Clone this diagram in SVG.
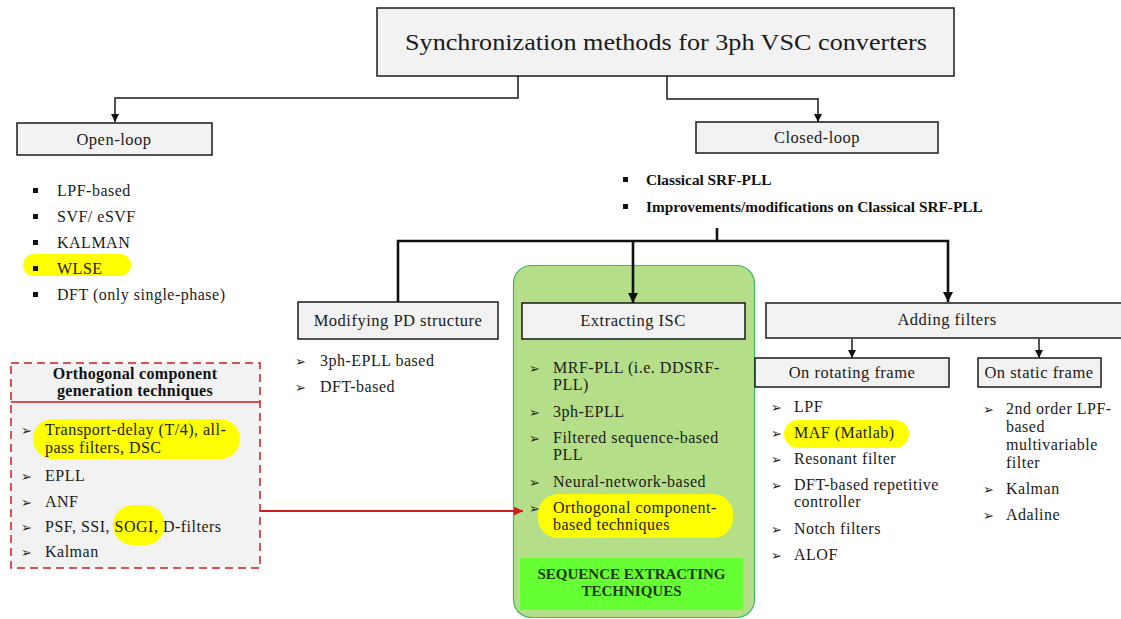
<svg xmlns="http://www.w3.org/2000/svg" width="1121" height="619" viewBox="0 0 1121 619">
<defs>
<style>
.box{fill:#f2f2f2;stroke:#1a1a1a;stroke-width:1.5}
.t{font-family:"Liberation Serif",serif;font-size:16px;letter-spacing:0.5px;fill:#1a1a1a}
.c{text-anchor:middle}
.h{font-family:"Liberation Serif",serif;font-size:16.5px;letter-spacing:0.5px;fill:#1a1a1a;text-anchor:middle}
.b{font-family:"Liberation Serif",serif;font-weight:bold;font-size:15.3px;fill:#111}
.ob{font-family:"Liberation Serif",serif;font-weight:bold;font-size:16px;letter-spacing:0.3px;fill:#111;text-anchor:middle}
.sx{font-family:"Liberation Serif",serif;font-weight:bold;font-size:15px;fill:#1e3a10;text-anchor:middle}
.arr{font-family:"DejaVu Sans",sans-serif;font-size:13px;fill:#222}
.sq{fill:#111}
.hl{fill:#ffff00}
.ln{fill:none;stroke:#1a1a1a;stroke-width:1.5}
.thick{fill:none;stroke:#111;stroke-width:2.6}
</style>
<marker id="ah" viewBox="0 0 10 10" refX="10" refY="5" markerUnits="userSpaceOnUse" markerWidth="10" markerHeight="8" orient="auto"><path d="M0,0 L10,5 L0,10 z" fill="#111"/></marker>
<marker id="ahb" viewBox="0 0 10 10" refX="10" refY="5" markerUnits="userSpaceOnUse" markerWidth="13" markerHeight="10" orient="auto"><path d="M0,0 L10,5 L0,10 z" fill="#111"/></marker>
<marker id="ahr" viewBox="0 0 10 10" refX="10" refY="5" markerUnits="userSpaceOnUse" markerWidth="12" markerHeight="9" orient="auto"><path d="M0,0 L10,5 L0,10 z" fill="#cc1f1f"/></marker>
</defs>
<rect width="1121" height="619" fill="#ffffff"/>

<g id="panel-sequence">
<rect x="513.5" y="265.5" width="241" height="352" rx="18" fill="#b5de88" stroke="#3cb86a" stroke-width="1.2"/>
<rect x="520" y="558" width="223" height="52" fill="#66ff33"/>
<text class="sx" x="631.5" y="579">SEQUENCE EXTRACTING</text>
<text class="sx" x="631.5" y="596">TECHNIQUES</text>
</g>

<g id="connectors">
<polyline class="ln" points="518,76 518,98 115,98 115,122" marker-end="url(#ah)"/>
<polyline class="ln" points="667,76 667,99 818,99 818,122" marker-end="url(#ah)"/>
<line class="thick" x1="717" y1="228" x2="717" y2="241"/>
<polyline class="thick" points="398,302 398,241 948,241 948,302" marker-end="url(#ahb)"/>
<line class="thick" x1="633" y1="241" x2="633" y2="303" marker-end="url(#ahb)"/>
<line class="ln" x1="852" y1="339" x2="852" y2="358" marker-end="url(#ah)"/>
<line class="ln" x1="1039" y1="339" x2="1039" y2="358" marker-end="url(#ah)"/>
<line x1="260" y1="511" x2="523" y2="511" stroke="#cc1f1f" stroke-width="1.8" marker-end="url(#ahr)"/>
</g>

<g id="root">
<rect class="box" x="377" y="8" width="577" height="68"/>
<text x="405" y="50" textLength="522" lengthAdjust="spacingAndGlyphs" style="font-family:'Liberation Serif',serif;font-size:23px;fill:#1a1a1a">Synchronization methods for 3ph VSC converters</text>
</g>

<g id="open-loop">
<rect class="box" x="17" y="123" width="195" height="32"/>
<text class="h" x="114" y="145">Open-loop</text>
<rect class="hl" x="23" y="254" width="108" height="22" rx="11"/>
<rect class="sq" x="33" y="188" width="5" height="5"/>
<rect class="sq" x="33" y="214" width="5" height="5"/>
<rect class="sq" x="33" y="240" width="5" height="5"/>
<rect class="sq" x="33" y="266" width="5" height="5"/>
<rect class="sq" x="33" y="292" width="5" height="5"/>
<text class="t" x="57" y="196">LPF-based</text>
<text class="t" x="57" y="222">SVF/ eSVF</text>
<text class="t" x="57" y="248">KALMAN</text>
<text class="t" x="57" y="274">WLSE</text>
<text class="t" x="57" y="300">DFT (only single-phase)</text>
</g>

<g id="closed-loop">
<rect class="box" x="696" y="122" width="242" height="31"/>
<text class="h" x="817" y="143">Closed-loop</text>
<rect class="sq" x="623" y="177" width="5" height="5"/>
<rect class="sq" x="623" y="204" width="5" height="5"/>
<text class="b" x="646" y="185">Classical SRF-PLL</text>
<text class="b" x="646" y="212">Improvements/modifications on Classical SRF-PLL</text>
</g>

<g id="modifying-pd">
<rect class="box" x="298" y="302" width="200" height="37"/>
<text class="h" x="398" y="326">Modifying PD structure</text>
<text class="arr" x="295" y="366">➢</text>
<text class="arr" x="295" y="392">➢</text>
<text class="t" x="320" y="366">3ph-EPLL based</text>
<text class="t" x="320" y="392">DFT-based</text>
</g>

<g id="extracting-isc">
<rect class="box" x="522" y="303" width="223" height="36"/>
<text class="h" x="633" y="326">Extracting ISC</text>
<rect class="hl" x="538" y="494" width="195" height="44" rx="20"/>
<text class="arr" x="529" y="373">➢</text>
<text class="arr" x="529" y="417">➢</text>
<text class="arr" x="529" y="443">➢</text>
<text class="arr" x="529" y="487">➢</text>
<text class="arr" x="529" y="513">➢</text>
<text class="t" x="553" y="373">MRF-PLL (i.e. DDSRF-</text>
<text class="t" x="553" y="390">PLL)</text>
<text class="t" x="553" y="417">3ph-EPLL</text>
<text class="t" x="553" y="443">Filtered sequence-based</text>
<text class="t" x="553" y="460">PLL</text>
<text class="t" x="553" y="487">Neural-network-based</text>
<text class="t" x="553" y="513">Orthogonal component-</text>
<text class="t" x="553" y="530">based techniques</text>
</g>

<g id="adding-filters">
<rect class="box" x="766" y="303" width="358" height="35"/>
<text class="h" x="947" y="325">Adding filters</text>
</g>

<g id="rotating-frame">
<rect class="box" x="755" y="358" width="194" height="29"/>
<text class="h" x="852" y="378">On rotating frame</text>
<rect class="hl" x="784" y="420" width="125" height="28" rx="14"/>
<text class="arr" x="771" y="412">➢</text>
<text class="arr" x="771" y="438">➢</text>
<text class="arr" x="771" y="464">➢</text>
<text class="arr" x="771" y="490">➢</text>
<text class="arr" x="771" y="534">➢</text>
<text class="arr" x="771" y="560">➢</text>
<text class="t" x="794" y="412">LPF</text>
<text class="t" x="794" y="438">MAF (Matlab)</text>
<text class="t" x="794" y="464">Resonant filter</text>
<text class="t" x="794" y="490">DFT-based repetitive</text>
<text class="t" x="794" y="507">controller</text>
<text class="t" x="794" y="534">Notch filters</text>
<text class="t" x="794" y="560">ALOF</text>
</g>

<g id="static-frame">
<rect class="box" x="978" y="358" width="123" height="29"/>
<text class="h" x="1039" y="378">On static frame</text>
<text class="arr" x="983" y="414">➢</text>
<text class="arr" x="983" y="494">➢</text>
<text class="arr" x="983" y="520">➢</text>
<text class="t" x="1006" y="414">2nd order LPF-</text>
<text class="t" x="1006" y="432">based</text>
<text class="t" x="1006" y="450">multivariable</text>
<text class="t" x="1006" y="468">filter</text>
<text class="t" x="1006" y="494">Kalman</text>
<text class="t" x="1006" y="520">Adaline</text>
</g>

<g id="orthogonal-box">
<rect x="11" y="363" width="249" height="205" fill="#f2f2f2" stroke="#cc1f1f" stroke-width="1.5" stroke-dasharray="8,5"/>
<line x1="11" y1="402" x2="260" y2="402" stroke="#cc1f1f" stroke-width="1.5"/>
<text class="ob" x="135" y="379">Orthogonal component</text>
<text class="ob" x="135" y="396">generation techniques</text>
<rect class="hl" x="33" y="419" width="207" height="40" rx="20"/>
<rect class="hl" x="113" y="505" width="52" height="40" rx="20"/>
<text class="arr" x="21" y="435">➢</text>
<text class="arr" x="21" y="481">➢</text>
<text class="arr" x="21" y="507">➢</text>
<text class="arr" x="21" y="532">➢</text>
<text class="arr" x="21" y="557">➢</text>
<text class="t" x="45" y="435">Transport-delay (T/4), all-</text>
<text class="t" x="45" y="453">pass filters, DSC</text>
<text class="t" x="45" y="481">EPLL</text>
<text class="t" x="45" y="507">ANF</text>
<text class="t" x="45" y="532">PSF, SSI, SOGI, D-filters</text>
<text class="t" x="45" y="557">Kalman</text>
</g>
</svg>
